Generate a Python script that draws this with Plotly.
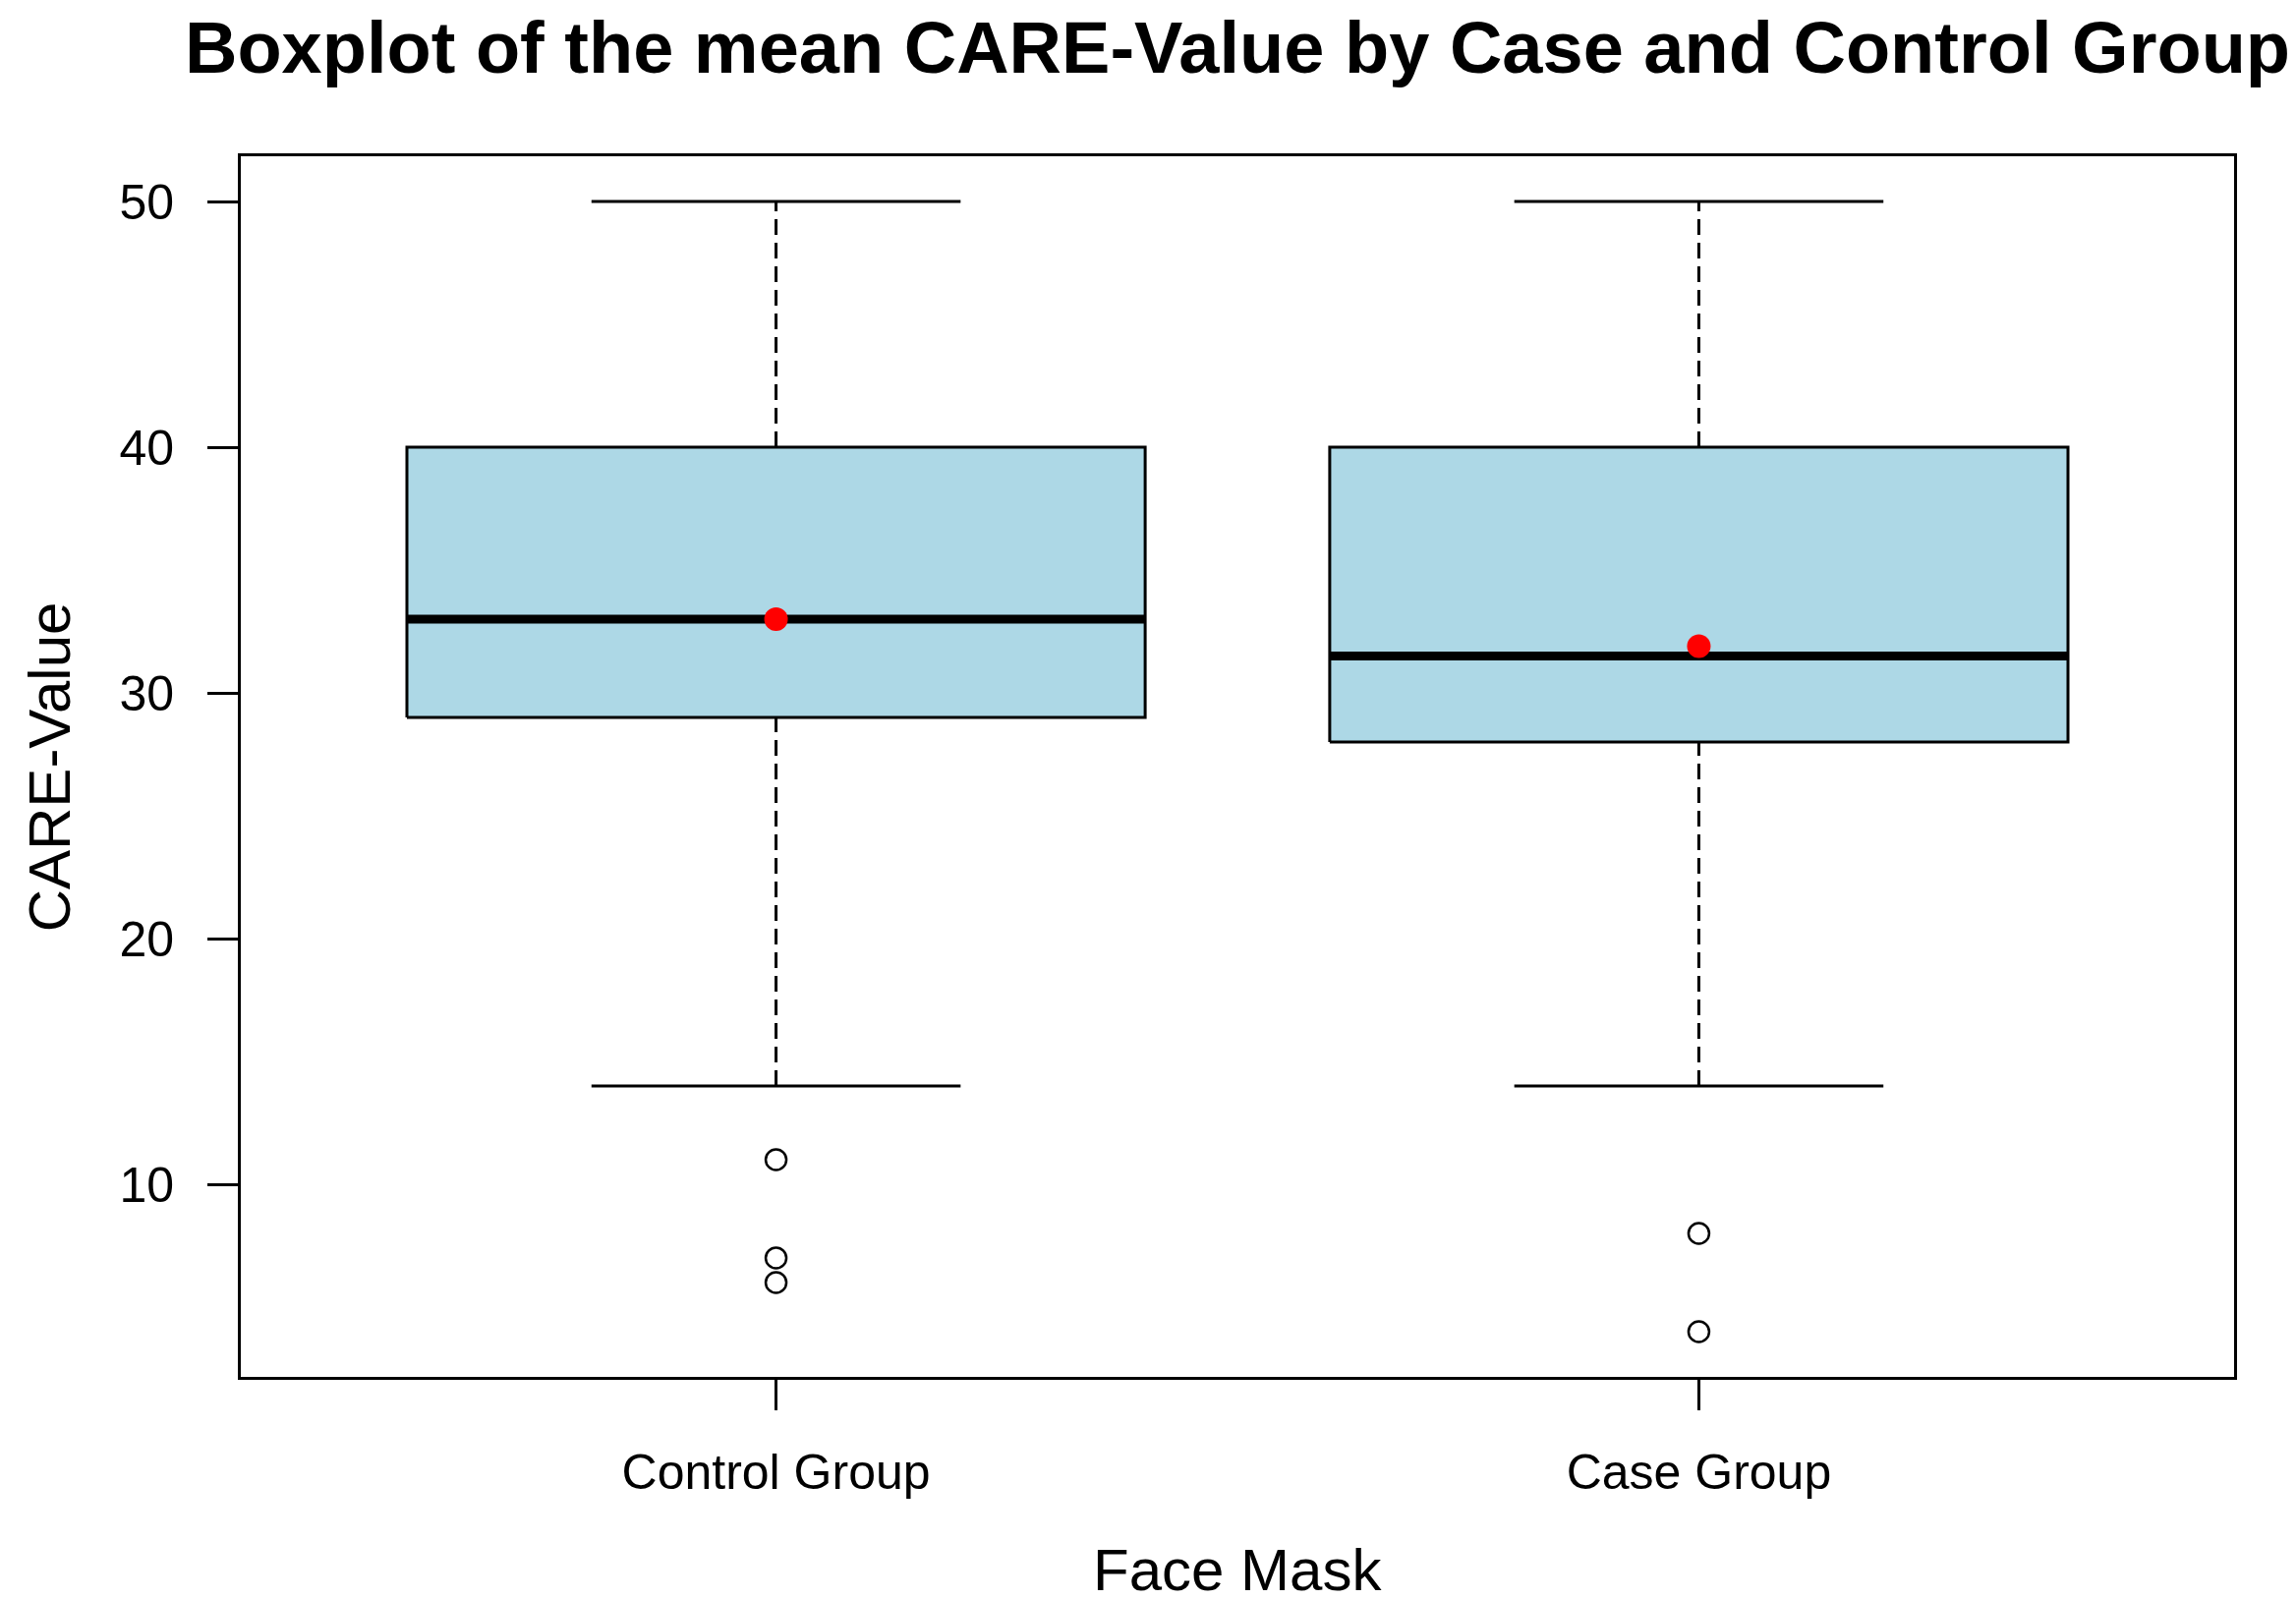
import plotly.graph_objects as go

# Summary statistics
groups = ["Control Group", "Case Group"]
q1 = [29, 28]
medians = [33, 31.5]
q3 = [40, 40]
whisker_low = [14, 14]
whisker_high = [50, 50]
means = [33, 31.9]
outliers = [[11, 7, 6], [8, 4]]

BOX_HALF = 0.4     # box half width (R default width 0.8)
CAP_HALF = 0.2     # staple half width
FONT = "Arial, Liberation Sans, sans-serif"

fig = go.Figure()

for i, name in enumerate(groups):
    pos = i + 1
    # dashed whiskers
    for a, b in [(q3[i], whisker_high[i]), (whisker_low[i], q1[i])]:
        fig.add_trace(go.Scatter(
            x=[pos, pos], y=[a, b], mode="lines",
            line=dict(color="black", width=3, dash="16px,8px"),
            hoverinfo="skip"))
    # staples
    for v in [whisker_low[i], whisker_high[i]]:
        fig.add_trace(go.Scatter(
            x=[pos - CAP_HALF, pos + CAP_HALF], y=[v, v], mode="lines",
            line=dict(color="black", width=3), hoverinfo="skip"))
    # box
    fig.add_trace(go.Scatter(
        x=[pos - BOX_HALF, pos + BOX_HALF, pos + BOX_HALF, pos - BOX_HALF, pos - BOX_HALF],
        y=[q1[i], q1[i], q3[i], q3[i], q1[i]],
        mode="lines", fill="toself", fillcolor="#ADD8E6",
        line=dict(color="black", width=3), name=name))
    # median
    fig.add_trace(go.Scatter(
        x=[pos - BOX_HALF, pos + BOX_HALF], y=[medians[i], medians[i]],
        mode="lines", line=dict(color="black", width=9), hoverinfo="skip"))
    # outliers
    fig.add_trace(go.Scatter(
        x=[pos] * len(outliers[i]), y=outliers[i], mode="markers",
        marker=dict(symbol="circle-open", size=21, color="black",
                    line=dict(width=2.5, color="black"))))
    # mean
    fig.add_trace(go.Scatter(
        x=[pos], y=[means[i]], mode="markers",
        marker=dict(symbol="circle", size=24, color="red")))

fig.update_layout(
    width=2336, height=1627,
    margin=dict(l=237, r=71, t=151, b=234),
    paper_bgcolor="white", plot_bgcolor="white",
    showlegend=False,
    font=dict(family=FONT, color="black", size=50),
    title=dict(
        text="<b>Boxplot of the mean CARE-Value by Case and Control Group</b>",
        font=dict(family=FONT, size=74, color="black"),
        x=0.5, xref="paper", xanchor="center",
        y=1 - 40 / 1627, yref="container", yanchor="middle"),
)

fig.update_xaxes(
    range=[0.42, 2.58], tickvals=[1, 2], ticktext=groups,
    showgrid=False, zeroline=False,
    showline=True, mirror=True, linecolor="black", linewidth=3,
    ticks="outside", ticklen=31, tickwidth=3, tickcolor="black",
    ticklabelstandoff=20,
    tickfont=dict(size=50))
fig.update_yaxes(
    range=[2.16, 51.84], tickvals=[10, 20, 30, 40, 50],
    showgrid=False, zeroline=False,
    showline=True, mirror=True, linecolor="black", linewidth=3,
    ticks="outside", ticklen=31, tickwidth=3, tickcolor="black",
    ticklabelstandoff=24,
    tickfont=dict(size=50))

fig.add_annotation(text="Face Mask", xref="paper", yref="paper",
                   x=0.5, y=-0.158, xanchor="center", yanchor="middle",
                   showarrow=False, font=dict(size=60))
fig.add_annotation(text="CARE-Value", xref="paper", yref="paper",
                   x=-0.096, y=0.5, xanchor="center", yanchor="middle",
                   textangle=-90, showarrow=False, font=dict(size=60))

fig.write_html("out.html")
